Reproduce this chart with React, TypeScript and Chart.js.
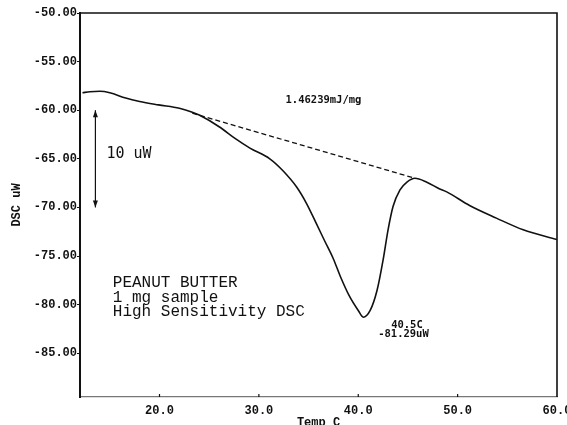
import { useEffect, useRef } from "react";
import { Chart, registerables } from "chart.js";

Chart.register(...registerables);

// DSC trace: temperature (°C) vs heat flow (uW)
const temperature = [
  12.25, 13.0, 14.0, 15.0, 16.6, 18.0, 19.9, 22.0, 23.3, 24.0, 26.0, 27.6, 29.1,
  31.1, 32.4, 33.8, 34.8, 35.8, 36.6, 37.5, 38.2, 39.1, 40.0, 40.5, 41.2, 41.9,
  42.5, 43.0, 43.5, 44.2, 44.9, 45.7, 46.9, 48.2, 48.9, 51.2, 53.9, 56.6, 60.0,
];
const heatFlow = [
  -58.2, -58.1, -58.05, -58.2, -58.75, -59.1, -59.45, -59.8, -60.2, -60.5, -61.7,
  -62.9, -63.9, -65.0, -66.2, -67.9, -69.6, -71.7, -73.4, -75.3, -77.1, -79.1,
  -80.6, -81.29, -80.6, -78.5, -75.4, -72.3, -69.9, -68.2, -67.4, -67.0, -67.4,
  -68.1, -68.4, -69.8, -71.1, -72.3, -73.3,
];

// Integration baseline under the melting peak
const baselineTemp = [23.3, 45.7];
const baselineFlow = [-60.3, -67.0];

// Axes
const xTickValues = [20, 30, 40, 50, 60];
const yTickValues = [-50, -55, -60, -65, -70, -75, -80, -85];
const xRange = [12, 60];
const yRange = [-89.5, -50];

// Peak and annotations
const peakTemp = 40.5;
const peakFlow = -81.29;
const enthalpyText = "1.46239mJ/mg";
const enthalpyPos = [36.5, -59.0];
const peakTempPos = [44.9, -82.1];
const peakFlowPos = [44.55, -83.06];
const scaleBarTemp = 13.55;
const scaleBarFlow = [-60, -70];
const scaleBarText = "10 uW";
const scaleBarTextPos = [14.66, -64.5];
const sampleLines = ["PEANUT BUTTER", "1 mg sample", "High Sensitivity DSC"];
const samplePos = [15.3, -77.75];

const MONO = "'Liberation Mono', 'DejaVu Sans Mono', monospace";
const DJ = "'DejaVu Sans Mono', monospace";
const INK = "#111";

const decorations = {
  id: "dscDecorations",
  afterDraw(chart: any) {
    const { ctx, chartArea: a, scales } = chart;
    const xs = scales.x;
    const ys = scales.y;
    const px = (t: number) => xs.getPixelForValue(t);
    const py = (v: number) => ys.getPixelForValue(v);
    ctx.save();

    // frame: top and right edges
    ctx.strokeStyle = INK;
    ctx.lineWidth = 1.6;
    ctx.beginPath();
    ctx.moveTo(a.left, a.top);
    ctx.lineTo(a.right, a.top);
    ctx.lineTo(a.right, a.bottom);
    ctx.stroke();

    // inward ticks on the temperature axis
    ctx.lineWidth = 1.2;
    ctx.beginPath();
    xTickValues.forEach((t) => {
      if (t >= xRange[1]) return;
      const x = px(t);
      ctx.moveTo(x, a.bottom);
      ctx.lineTo(x, a.bottom - 3);
    });
    ctx.stroke();

    // 10 uW scale bar with arrow heads
    const bx = px(scaleBarTemp);
    const y1 = py(scaleBarFlow[0]);
    const y2 = py(scaleBarFlow[1]);
    ctx.lineWidth = 1.2;
    ctx.beginPath();
    ctx.moveTo(bx, y1);
    ctx.lineTo(bx, y2);
    ctx.stroke();
    ctx.fillStyle = INK;
    ctx.beginPath();
    ctx.moveTo(bx, y1);
    ctx.lineTo(bx - 2.5, y1 + 7);
    ctx.lineTo(bx + 2.5, y1 + 7);
    ctx.closePath();
    ctx.fill();
    ctx.beginPath();
    ctx.moveTo(bx, y2);
    ctx.lineTo(bx - 2.5, y2 - 7);
    ctx.lineTo(bx + 2.5, y2 - 7);
    ctx.closePath();
    ctx.fill();

    ctx.textBaseline = "middle";
    ctx.fillStyle = INK;

    ctx.textAlign = "left";
    ctx.font = `15px ${DJ}`;
    ctx.fillText(scaleBarText, px(scaleBarTextPos[0]), py(scaleBarTextPos[1]));

    ctx.font = `16px ${MONO}`;
    const sx = px(samplePos[0]);
    const sy = py(samplePos[1]);
    sampleLines.forEach((line, i) => ctx.fillText(line, sx, sy + i * 14.6));

    ctx.textAlign = "center";
    ctx.font = `bold 10.5px ${DJ}`;
    ctx.fillText(enthalpyText, px(enthalpyPos[0]), py(enthalpyPos[1]));
    ctx.fillText(`${peakTemp.toFixed(1)}C`, px(peakTempPos[0]), py(peakTempPos[1]));
    ctx.fillText(`${peakFlow.toFixed(2)}uW`, px(peakFlowPos[0]), py(peakFlowPos[1]));

    ctx.restore();
  },
};

export default function App() {
  const ref = useRef<HTMLCanvasElement>(null);

  useEffect(() => {
    if (!ref.current) return;
    const chart = new Chart(ref.current, {
      type: "line",
      data: {
        datasets: [
          {
            label: "DSC",
            data: temperature.map((t, i) => ({ x: t, y: heatFlow[i] })),
            borderColor: INK,
            borderWidth: 1.6,
            pointRadius: 0,
            cubicInterpolationMode: "monotone",
            fill: false,
          },
          {
            label: "baseline",
            data: baselineTemp.map((t, i) => ({ x: t, y: baselineFlow[i] })),
            borderColor: INK,
            borderWidth: 1.3,
            borderDash: [5, 3],
            pointRadius: 0,
            fill: false,
          },
        ],
      },
      options: {
        responsive: false,
        animation: false,
        devicePixelRatio: 1,
        layout: { padding: { top: 13, right: 10, left: 0, bottom: 0 } },
        plugins: {
          legend: { display: false },
          tooltip: { enabled: false },
        },
        scales: {
          x: {
            type: "linear",
            min: xRange[0],
            max: xRange[1],
            afterBuildTicks: (s: any) => {
              s.ticks = xTickValues.map((v) => ({ value: v }));
            },
            afterFit: (s: any) => {
              s.height = 28;
              s.paddingLeft = 0;
              s.paddingRight = 0;
            },
            grid: { display: false, drawTicks: false },
            border: { display: true, color: "#777", width: 1.2 },
            ticks: {
              padding: 7,
              color: INK,
              font: { family: MONO, size: 12, weight: "bold" },
              maxRotation: 0,
              autoSkip: false,
              callback: (v: any) => Number(v).toFixed(1),
            },
            title: {
              display: true,
              text: "Temp C",
              color: INK,
              font: { family: MONO, size: 12, weight: "bold", lineHeight: 1 },
              padding: { top: 0, bottom: -4 },
            },
          },
          y: {
            type: "linear",
            min: yRange[0],
            max: yRange[1],
            afterBuildTicks: (s: any) => {
              s.ticks = yTickValues.map((v) => ({ value: v }));
            },
            afterFit: (s: any) => {
              s.width = 80;
              s.paddingTop = 0;
              s.paddingBottom = 0;
            },
            grid: {
              drawOnChartArea: false,
              drawTicks: true,
              tickLength: 3,
              tickColor: INK,
              tickWidth: 1.2,
            },
            border: { display: true, color: INK, width: 2 },
            ticks: {
              padding: 0,
              color: INK,
              font: { family: MONO, size: 12, weight: "bold" },
              autoSkip: false,
              callback: (v: any) => Number(v).toFixed(2),
            },
            title: {
              display: true,
              text: "DSC uW",
              color: INK,
              font: { family: MONO, size: 12, weight: "bold", lineHeight: 1.2 },
              padding: { top: 10, bottom: 0 },
            },
          },
        },
      },
      plugins: [decorations],
    });
    return () => chart.destroy();
  }, []);

  return (
    <div style={{ position: "absolute", left: 0, top: 0, width: 567, height: 425, background: "#fff" }}>
      <canvas ref={ref} width={567} height={425} />
    </div>
  );
}
